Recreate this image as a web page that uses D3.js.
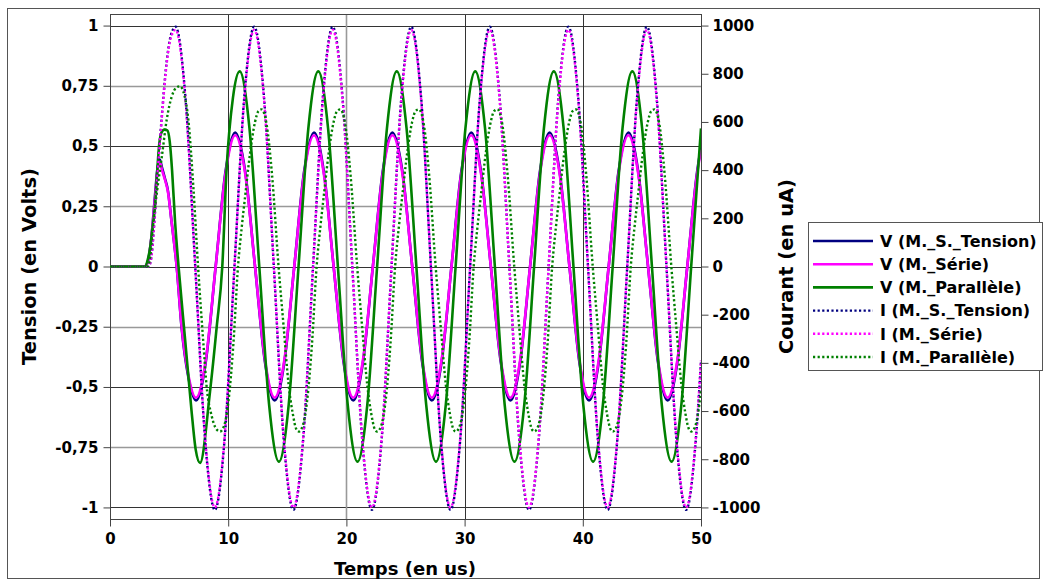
<!DOCTYPE html>
<html><head><meta charset="utf-8">
<script src="https://cdn.jsdelivr.net/npm/d3@7"></script>
<style>
html,body{margin:0;padding:0;background:#fff;}
svg{display:block;font-family:"DejaVu Sans",sans-serif;font-weight:bold;}
</style>
</head><body>
<svg id="c" width="1046" height="585"></svg>
<script>
// ---------- tick labels ----------
const xTicks = [0, 10, 20, 30, 40, 50];
const yLeftTicks = [-1, -0.75, -0.5, -0.25, 0, 0.25, 0.5, 0.75, 1];
const yRightTicks = [-1000, -800, -600, -400, -200, 0, 200, 400, 600, 800, 1000];
const xTitle = "Temps (en us)";
const yLeftTitle = "Tension (en Volts)";
const yRightTitle = "Courant (en uA)";
const seriesNames = ["V (M._S._Tension)", "V (M._Série)", "V (M._Parallèle)",
                     "I (M._S._Tension)", "I (M._Série)", "I (M._Parallèle)"];

// ---------- series values ----------
// time (us) for V (M._S._Tension) and V (M._Série)
const tV = [0,2.9,3.2,3.5,3.8,4.0,4.2,4.4,4.65,4.9,5.2,5.64,6.06,6.63,
  7.28,8.11,8.94,9.77,10.6,11.44,12.27,13.1,
  13.93,14.76,15.59,16.42,17.26,18.09,18.92,19.75,
  20.58,21.41,22.24,23.07,23.9,24.74,25.57,26.4,
  27.23,28.06,28.89,29.72,30.56,31.39,32.22,33.05,
  33.88,34.71,35.54,36.37,37.2,38.04,38.87,39.7,
  40.53,41.36,42.19,43.02,43.86,44.69,45.52,46.35,
  47.18,48.01,48.84,49.67,50];
const vTension = [0,0,0.02,0.12,0.29,0.4,0.445,0.41,0.365,0.315,0.19,0,-0.255,-0.46,
  -0.556,-0.393,0,0.393,0.556,0.393,0,-0.393,
  -0.556,-0.393,0,0.393,0.556,0.393,0,-0.393,
  -0.556,-0.393,0,0.393,0.556,0.393,0,-0.393,
  -0.556,-0.393,0,0.393,0.556,0.393,0,-0.393,
  -0.556,-0.393,0,0.393,0.556,0.393,0,-0.393,
  -0.556,-0.393,0,0.393,0.556,0.393,0,-0.393,
  -0.556,-0.393,0,0.393,0.495];
const vSerie = [0,0,0.02,0.12,0.28,0.39,0.435,0.4,0.36,0.31,0.19,0,-0.25,-0.45,
  -0.545,-0.385,0,0.385,0.545,0.385,0,-0.385,
  -0.545,-0.385,0,0.385,0.545,0.385,0,-0.385,
  -0.545,-0.385,0,0.385,0.545,0.385,0,-0.385,
  -0.545,-0.385,0,0.385,0.545,0.385,0,-0.385,
  -0.545,-0.385,0,0.385,0.545,0.385,0,-0.385,
  -0.545,-0.385,0,0.385,0.545,0.385,0,-0.385,
  -0.545,-0.385,0,0.385,0.485];

// time (us) for V (M._Parallèle)
const tVP = [0,2.95,3.2,3.4,3.6,3.81,4.0,4.15,4.35,4.6,4.85,5.05,5.25,5.5,5.8,6.35,6.9,7.25,7.62,8.46,9.03,9.5,9.87,10.4,
  10.97,11.8,12.63,13.46,14.29,15.12,15.95,16.78,
  17.62,18.45,19.28,20.11,20.94,21.77,22.6,23.43,
  24.26,25.09,25.92,26.75,27.58,28.41,29.24,30.07,
  30.9,31.73,32.56,33.39,34.22,35.05,35.88,36.71,
  37.55,38.38,39.21,40.04,40.87,41.7,42.53,43.36,
  44.19,45.02,45.85,46.68,47.51,48.34,49.17,50];
const vParallele = [0,0,0.03,0.08,0.16,0.25,0.4,0.5,0.555,0.568,0.565,0.52,0.4,0.19,0,-0.3,-0.6,-0.76,-0.815,-0.52,-0.25,0,0.41,0.7,
  0.81,0.573,0,-0.573,-0.81,-0.573,0,0.573,
  0.81,0.573,0,-0.573,-0.81,-0.573,0,0.573,
  0.81,0.573,0,-0.573,-0.81,-0.573,0,0.573,
  0.81,0.573,0,-0.573,-0.81,-0.573,0,0.573,
  0.81,0.573,0,-0.573,-0.81,-0.573,0,0.573,
  0.81,0.573,0,-0.573,-0.81,-0.573,0,0.573];

// time (us) for I (M._S._Tension) and I (M._Série)
const tI = [0,3.25,3.5,3.7,3.95,4.37,4.8,5.15,
  5.55,6.38,7.21,8.04,8.87,9.7,10.53,11.36,
  12.2,13.03,13.86,14.69,15.52,16.35,17.18,18.01,
  18.84,19.67,20.5,21.33,22.16,22.99,23.82,24.65,
  25.49,26.32,27.15,27.98,28.81,29.64,30.47,31.3,
  32.13,32.96,33.79,34.62,35.45,36.28,37.11,37.94,
  38.78,39.61,40.44,41.27,42.1,42.93,43.76,44.59,
  45.42,46.25,47.08,47.91,48.74,49.57,50];
const iTension = [0,0,40,152,335,615,852,960,
  995,703,0,-714,-1010,-714,0,703,
  995,703,0,-714,-1010,-714,0,703,
  995,703,0,-714,-1010,-714,0,703,
  995,703,0,-714,-1010,-714,0,703,
  995,703,0,-714,-1010,-714,0,703,
  995,703,0,-714,-1010,-714,0,703,
  995,703,0,-714,-1010,-714,-395];
const iSerie = [0,0,40,150,330,608,843,950,
  982,694,0,-707,-1000,-707,0,694,
  982,694,0,-707,-1000,-707,0,694,
  982,694,0,-707,-1000,-707,0,694,
  982,694,0,-707,-1000,-707,0,694,
  982,694,0,-707,-1000,-707,0,694,
  982,694,0,-707,-1000,-707,0,694,
  982,694,0,-707,-1000,-707,-390];

// time (us) for I (M._Parallèle)
const tIP = [0,3.2,3.45,3.67,4.0,4.37,4.8,5.22,5.6,5.92,6.3,6.63,7.05,7.45,7.9,8.18,8.6,9.0,
  9.31,9.66,10.02,10.44,10.83,11.16,11.43,11.85,12.27,12.56,12.83,13.25,13.71,14.26,14.69,15.11,15.46,15.76,
  15.96,16.31,16.67,17.09,17.48,17.81,18.08,18.5,18.92,19.21,19.48,19.9,20.35,20.91,21.33,21.76,22.1,22.4,
  22.6,22.95,23.31,23.73,24.12,24.45,24.72,25.14,25.56,25.85,26.13,26.55,27.0,27.55,27.98,28.41,28.75,29.05,
  29.25,29.6,29.96,30.38,30.77,31.1,31.37,31.79,32.21,32.5,32.77,33.19,33.64,34.2,34.62,35.05,35.39,35.69,
  35.89,36.24,36.6,37.02,37.41,37.74,38.01,38.43,38.85,39.14,39.42,39.84,40.29,40.84,41.27,41.7,42.04,42.34,
  42.54,42.89,43.25,43.67,44.06,44.39,44.66,45.08,45.5,45.79,46.06,46.48,46.93,47.49,47.91,48.34,48.68,48.98,
  49.18,49.53,49.89,50];
const iParallele = [0,0,60,190,320,450,610,705,742,748,710,608,331,0,-319,-500,-620,-675,
  -685,-660,-560,-320,0,170,290,470,600,645,652,590,380,0,-250,-490,-610,-675,
  -685,-660,-560,-320,0,170,290,470,600,645,652,590,380,0,-250,-490,-610,-675,
  -685,-660,-560,-320,0,170,290,470,600,645,652,590,380,0,-250,-490,-610,-675,
  -685,-660,-560,-320,0,170,290,470,600,645,652,590,380,0,-250,-490,-610,-675,
  -685,-660,-560,-320,0,170,290,470,600,645,652,590,380,0,-250,-490,-610,-675,
  -685,-660,-560,-320,0,170,290,470,600,645,652,590,380,0,-250,-490,-610,-675,
  -685,-660,-560,-510];

// ---------- layout ----------
const plot = {left: 110, right: 701, top: 14, bottom: 519};
const svg = d3.select("#c");

const x = d3.scaleLinear().domain([0, 50]).range([plot.left, plot.right]);
const yL = d3.scaleLinear().domain([-1.048, 1.048]).range([plot.bottom, plot.top]);
const yR = d3.scaleLinear().domain([-1048, 1048]).range([plot.bottom, plot.top]);

// outer frame
svg.append("rect").attr("x", 7.5).attr("y", 8.5).attr("width", 1032).attr("height", 570)
  .attr("fill", "none").attr("stroke", "#555").attr("stroke-width", 1);

// gridlines
const isMajor = d => Math.abs(d * 2 - Math.round(d * 2)) < 1e-9;
const grid = svg.append("g");
grid.selectAll("line.h").data(yLeftTicks).join("line")
  .attr("x1", plot.left).attr("x2", plot.right)
  .attr("y1", d => Math.round(yL(d)) + 0.5).attr("y2", d => Math.round(yL(d)) + 0.5)
  .attr("stroke", d => isMajor(d) ? "#333" : "#999")
  .attr("stroke-width", d => isMajor(d) ? 1 : 1.6);
grid.selectAll("line.v").data(xTicks.slice(1, -1)).join("line")
  .attr("y1", plot.top).attr("y2", plot.bottom)
  .attr("x1", d => Math.round(x(d)) + 0.5).attr("x2", d => Math.round(x(d)) + 0.5)
  .attr("stroke", d => (d === 20) ? "#999" : "#333")
  .attr("stroke-width", d => (d === 20) ? 1.6 : 1);

// plot frame
svg.append("rect").attr("x", plot.left + 0.5).attr("y", plot.top + 0.5)
  .attr("width", plot.right - plot.left).attr("height", plot.bottom - plot.top)
  .attr("fill", "none").attr("stroke", "#444").attr("stroke-width", 1);

// axes
const fmt = d => String(d).replace(".", ",");
const axL = svg.append("g").attr("transform", `translate(${plot.left + 0.5},0)`)
  .call(d3.axisLeft(yL).tickValues(yLeftTicks).tickFormat(fmt).tickSize(7).tickPadding(5));
const axR = svg.append("g").attr("transform", `translate(${plot.right + 0.5},0)`)
  .call(d3.axisRight(yR).tickValues(yRightTicks).tickFormat(d => String(d)).tickSize(7).tickPadding(4));
const axB = svg.append("g").attr("transform", `translate(0,${plot.bottom + 0.5})`)
  .call(d3.axisBottom(x).tickValues(xTicks).tickFormat(d => String(d)).tickSize(7).tickPadding(7));
[axL, axR, axB].forEach(a => {
  a.select(".domain").remove();
  a.selectAll(".tick line").attr("stroke", "#444");
  a.selectAll("text").attr("font-family", '"DejaVu Sans", sans-serif')
    .attr("font-weight", "bold").attr("font-size", 15).attr("fill", "#000");
});

// axis titles
svg.append("text").attr("x", 405).attr("y", 575).attr("text-anchor", "middle")
  .attr("font-size", 18).text(xTitle);
svg.append("text").attr("transform", `translate(36,${(plot.top + plot.bottom) / 2}) rotate(-90)`)
  .attr("text-anchor", "middle").attr("font-size", 19.5).text(yLeftTitle);
svg.append("text").attr("transform", `translate(793,${(plot.top + plot.bottom) / 2}) rotate(-90)`)
  .attr("text-anchor", "middle").attr("font-size", 19.5).text(yRightTitle);

// series
svg.append("clipPath").attr("id", "clip").append("rect")
  .attr("x", plot.left).attr("y", plot.top)
  .attr("width", plot.right - plot.left).attr("height", plot.bottom - plot.top);

const series = [
  {name: seriesNames[0], t: tV, v: vTension, y: yL, color: "#000080", dotted: false},
  {name: seriesNames[1], t: tV, v: vSerie, y: yL, color: "#ff00ff", dotted: false},
  {name: seriesNames[2], t: tVP, v: vParallele, y: yL, color: "#008000", dotted: false},
  {name: seriesNames[3], t: tI, v: iTension, y: yR, color: "#000080", dotted: true},
  {name: seriesNames[4], t: tI, v: iSerie, y: yR, color: "#ff00ff", dotted: true},
  {name: seriesNames[5], t: tIP, v: iParallele, y: yR, color: "#008000", dotted: true}
];

const gLines = svg.append("g").attr("clip-path", "url(#clip)");
series.forEach(s => {
  const line = d3.line().x(d => x(d[0])).y(d => s.y(d[1])).curve(d3.curveMonotoneX);
  gLines.append("path").datum(d3.zip(s.t, s.v)).attr("d", line)
    .attr("fill", "none").attr("stroke", s.color)
    .attr("stroke-width", s.dotted ? 2.4 : 2.6)
    .attr("stroke-dasharray", s.dotted ? "2.2,2.4" : null)
    .attr("stroke-linejoin", "round");
});

// legend
const lg = svg.append("g");
lg.append("rect").attr("x", 808.5).attr("y", 222.5).attr("width", 234).attr("height", 148)
  .attr("fill", "#fff").attr("stroke", "#555").attr("stroke-width", 1);
series.forEach((s, i) => {
  const yy = 241 + i * 23.2;
  lg.append("line").attr("x1", 813).attr("x2", 873).attr("y1", yy).attr("y2", yy)
    .attr("stroke", s.color).attr("stroke-width", s.dotted ? 2.4 : 2.6)
    .attr("stroke-dasharray", s.dotted ? "2.2,2.4" : null);
  lg.append("text").attr("x", 880).attr("y", yy).attr("dy", "0.36em")
    .attr("font-size", 16).text(s.name);
});
</script>
</body></html>
